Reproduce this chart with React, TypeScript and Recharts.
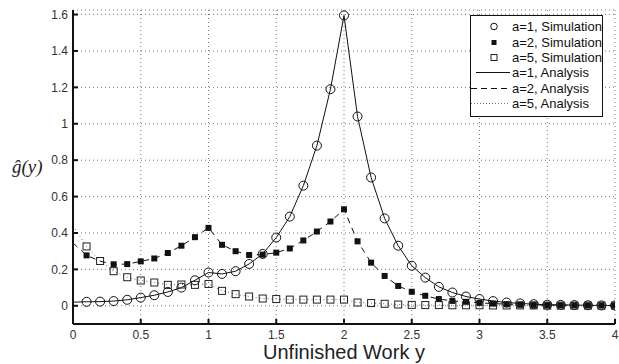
import {
  CartesianGrid,
  ComposedChart,
  Line,
  XAxis,
  YAxis,
} from "recharts";

// x grid, 0 .. 4 step 0.1
const xs = [
  0, 0.1, 0.2, 0.3, 0.4, 0.5, 0.6, 0.7, 0.8, 0.9, 1, 1.1, 1.2, 1.3, 1.4, 1.5,
  1.6, 1.7, 1.8, 1.9, 2, 2.1, 2.2, 2.3, 2.4, 2.5, 2.6, 2.7, 2.8, 2.9, 3, 3.1,
  3.2, 3.3, 3.4, 3.5, 3.6, 3.7, 3.8, 3.9, 4,
];

// simulation points, x = 0.1 .. 4
const a1Sim = [
  0.022, 0.023, 0.026, 0.033, 0.045, 0.058, 0.076, 0.1, 0.14, 0.183, 0.175,
  0.19, 0.23, 0.285, 0.375, 0.49, 0.66, 0.88, 1.19, 1.595, 1.04, 0.705, 0.48,
  0.33, 0.22, 0.155, 0.104, 0.073, 0.051, 0.037, 0.026, 0.018, 0.013, 0.009,
  0.006, 0.005, 0.004, 0.003, 0.002, 0.002,
];
const a2Sim = [
  0.277, null, 0.228, 0.229, 0.244, 0.26, 0.29, 0.33, 0.377, 0.428, 0.335, 0.3,
  0.279, 0.281, 0.292, 0.315, 0.359, 0.408, 0.463, 0.53, 0.354, 0.237, 0.164,
  0.109, 0.077, 0.055, 0.037, 0.027, 0.022, 0.016, 0.012, 0.009, 0.007, 0.005,
  0.004, 0.003, 0.003, 0.002, 0.002, 0.001,
];
const a5Sim = [
  0.326, 0.246, 0.19, 0.157, 0.139, 0.128, 0.115, 0.117, 0.115, 0.12, 0.082,
  0.064, 0.051, 0.04, 0.037, 0.034, 0.034, 0.034, 0.034, 0.034, 0.018, 0.015,
  0.011, 0.007, 0.005, 0.004, 0.004, 0.003, 0.003, 0.003, 0.002, 0.002, 0.002,
  0.002, 0.001, 0.001, 0.001, 0.001, 0.001, 0.001,
];

// analysis curves, x = 0 .. 4
const a1Ana = [
  0.02, 0.022, 0.023, 0.026, 0.033, 0.045, 0.058, 0.076, 0.1, 0.14, 0.183,
  0.175, 0.19, 0.23, 0.285, 0.375, 0.49, 0.66, 0.88, 1.19, 1.595, 1.04, 0.705,
  0.48, 0.33, 0.22, 0.155, 0.104, 0.073, 0.051, 0.037, 0.026, 0.018, 0.013,
  0.009, 0.006, 0.005, 0.004, 0.003, 0.002, 0.002,
];
const a2Ana = [
  0.345, 0.277, 0.245, 0.228, 0.229, 0.244, 0.26, 0.29, 0.33, 0.377, 0.428,
  0.335, 0.3, 0.279, 0.281, 0.292, 0.315, 0.359, 0.408, 0.463, 0.53, 0.354,
  0.237, 0.164, 0.109, 0.077, 0.055, 0.037, 0.027, 0.022, 0.016, 0.012, 0.009,
  0.007, 0.005, 0.004, 0.003, 0.003, 0.002, 0.002, 0.001,
];
const a5Ana = [
  0.44, 0.326, 0.246, 0.19, 0.157, 0.139, 0.128, 0.115, 0.117, 0.115, 0.12,
  0.082, 0.064, 0.051, 0.04, 0.037, 0.034, 0.034, 0.034, 0.034, 0.034, 0.018,
  0.015, 0.011, 0.007, 0.005, 0.004, 0.004, 0.003, 0.003, 0.003, 0.002, 0.002,
  0.002, 0.002, 0.001, 0.001, 0.001, 0.001, 0.001, 0.001,
];

const xTicks = [0, 0.5, 1, 1.5, 2, 2.5, 3, 3.5, 4];
const yTicks = [0, 0.2, 0.4, 0.6, 0.8, 1, 1.2, 1.4, 1.6];

const legendItems = [
  { label: "a=1, Simulation", kind: "circle" },
  { label: "a=2, Simulation", kind: "filled" },
  { label: "a=5, Simulation", kind: "open" },
  { label: "a=1, Analysis", kind: "solid" },
  { label: "a=2, Analysis", kind: "dashed" },
  { label: "a=5, Analysis", kind: "dotted" },
];

const rows = xs.map((x, i) => ({
  x,
  a1s: i === 0 ? null : a1Sim[i - 1],
  a2s: i === 0 ? null : a2Sim[i - 1],
  a5s: i === 0 ? null : a5Sim[i - 1],
  a1a: a1Ana[i],
  a2a: a2Ana[i],
  a5a: a5Ana[i],
}));

const FONT = "'Liberation Sans', Arial, Helvetica, sans-serif";

const circleDot = (p: any) => {
  if (p.cx == null || p.cy == null || p.value == null) return <g key={p.key} />;
  return (
    <circle key={p.key} cx={p.cx} cy={p.cy} r={4.5} fill="none" stroke="#111" strokeWidth={1} />
  );
};
const filledDot = (p: any) => {
  if (p.cx == null || p.cy == null || p.value == null) return <g key={p.key} />;
  return <rect key={p.key} x={p.cx - 3} y={p.cy - 3} width={6} height={6} fill="#111" />;
};
const openDot = (p: any) => {
  if (p.cx == null || p.cy == null || p.value == null) return <g key={p.key} />;
  return (
    <rect key={p.key} x={p.cx - 3.5} y={p.cy - 3.5} width={7} height={7} fill="none" stroke="#222" strokeWidth={1} />
  );
};

function LegendSample({ kind }: { kind: string }) {
  return (
    <svg width={40} height={15} style={{ display: "block" }}>
      {kind === "circle" && <circle cx={23} cy={7.5} r={3.3} fill="none" stroke="#111" />}
      {kind === "filled" && <rect x={20.5} y={5} width={5} height={5} fill="#111" />}
      {kind === "open" && <rect x={20} y={4.5} width={6} height={6} fill="none" stroke="#222" />}
      {kind === "solid" && <line x1={5} x2={39} y1={7.5} y2={7.5} stroke="#111" />}
      {kind === "dashed" && (
        <line x1={0} x2={39} y1={7.5} y2={7.5} stroke="#111" strokeDasharray="6 4" />
      )}
      {kind === "dotted" && (
        <line x1={0} x2={39} y1={7.5} y2={7.5} stroke="#777" strokeDasharray="1 2" />
      )}
    </svg>
  );
}

export default function App() {
  return (
    <div style={{ position: "absolute", left: 0, top: 0, width: 619, height: 364, background: "#fff" }}>
      <ComposedChart
        width={619}
        height={364}
        data={rows}
        margin={{ top: 10, right: 4, bottom: 10, left: 33 }}
      >
        <CartesianGrid stroke="#777" strokeDasharray="1 3" />
        <XAxis
          dataKey="x"
          type="number"
          domain={[0, 4]}
          ticks={xTicks}
          allowDataOverflow
          height={30}
          stroke="#111"
          strokeWidth={2}
          tickSize={-5}
          tickMargin={11}
          tick={{ fontSize: 12, fill: "#333", fontFamily: FONT }}
        />
        <XAxis
          xAxisId="top"
          orientation="top"
          type="number"
          domain={[0, 4]}
          ticks={xTicks}
          allowDataOverflow
          height={0}
          stroke="#111"
          strokeWidth={1.5}
          tickSize={-5}
          tick={false}
        />
        <YAxis
          type="number"
          domain={[-0.1, 1.625]}
          ticks={yTicks}
          allowDataOverflow
          width={40}
          stroke="#111"
          strokeWidth={2}
          tickSize={-5}
          tickMargin={10}
          tick={{ fontSize: 12, fill: "#333", fontFamily: FONT }}
        />
        <YAxis
          yAxisId="right"
          orientation="right"
          type="number"
          domain={[-0.1, 1.625]}
          ticks={yTicks}
          allowDataOverflow
          width={0}
          stroke="#111"
          strokeWidth={1.5}
          tickSize={-5}
          tick={false}
        />
        <Line dataKey="a1a" type="linear" stroke="#111" strokeWidth={1} dot={false} isAnimationActive={false} />
        <Line dataKey="a2a" type="linear" stroke="#111" strokeWidth={1} strokeDasharray="6 5" dot={false} isAnimationActive={false} />
        <Line dataKey="a5a" type="linear" stroke="#666" strokeWidth={1} strokeDasharray="1 3" dot={false} isAnimationActive={false} />
        <Line dataKey="a1s" stroke="none" dot={circleDot} activeDot={false} isAnimationActive={false} />
        <Line dataKey="a2s" stroke="none" dot={filledDot} activeDot={false} isAnimationActive={false} />
        <Line dataKey="a5s" stroke="none" dot={openDot} activeDot={false} isAnimationActive={false} />
      </ComposedChart>

      <div
        style={{
          position: "absolute",
          left: 470,
          top: 15,
          width: 131,
          height: 97,
          border: "1px solid #111",
          background: "#fff",
          paddingTop: 3,
          boxSizing: "content-box",
        }}
      >
        {legendItems.map((it) => (
          <div key={it.label} style={{ display: "flex", alignItems: "center", height: 15.4 }}>
            <LegendSample kind={it.kind} />
            <span style={{ fontFamily: FONT, fontSize: 13, color: "#111", lineHeight: "15px", marginLeft: 1 }}>
              {it.label}
            </span>
          </div>
        ))}
      </div>

      <div
        style={{
          position: "absolute",
          left: 12,
          top: 156,
          fontFamily: "'Liberation Serif', 'DejaVu Serif', serif",
          fontStyle: "italic",
          fontSize: 19,
          lineHeight: "22px",
          color: "#222",
        }}
      >
        ĝ(y)
      </div>
      <div
        style={{
          position: "absolute",
          left: 73,
          width: 542,
          top: 342,
          textAlign: "center",
          fontFamily: FONT,
          fontSize: 20,
          color: "#222",
          lineHeight: "20px",
        }}
      >
        Unfinished Work y
      </div>
    </div>
  );
}
